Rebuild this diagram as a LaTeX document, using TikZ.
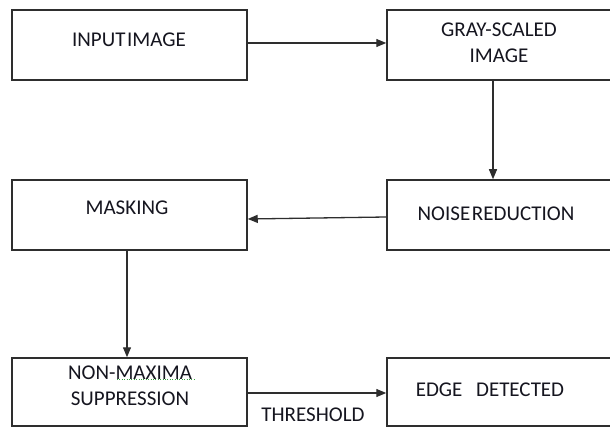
\documentclass[tikz,border=0pt]{standalone}
\usepackage{fontspec}
\setmainfont{Carlito}[WordSpace=0.35]
\usetikzlibrary{arrows.meta}
\definecolor{edgecol}{HTML}{2E2E2E}
\definecolor{inkcol}{HTML}{15151F}
\definecolor{spellcol}{HTML}{3AA040}
\tikzset{
  stage/.style={draw=edgecol, line width=1.5pt, fill=white, minimum width=235pt,
    minimum height=70pt, inner sep=0pt},
  wide/.style={minimum width=226pt},
  tall/.style={minimum height=68pt},
  caption/.style={text=inkcol, font=\fontsize{21}{26}\selectfont, inner sep=0pt,
    align=center},
  flow/.style={draw=edgecol, line width=1.3pt, -{Triangle[length=10pt,width=8pt]}},
}
\begin{document}
\begin{tikzpicture}[x=1pt, y=-1pt]
  \useasboundingbox (0,0) rectangle (610,427);
  \clip (0,0) rectangle (610,427);

  % stage boxes
  \node[stage]      (in)    at (129.5, 45)  {};
  \node[stage,wide] (gray)  at (500, 45)   {};
  \node[stage]      (mask)  at (129.5, 215) {};
  \node[stage,wide] (noise) at (500, 215)  {};
  \node[stage,tall] (nms)   at (129.5, 392) {};
  \node[stage,wide,tall] (edge) at (500, 392) {};

  % stage captions
  \node[caption] (tin)    at (129, 40)  {INPUT IMAGE};
  \node[caption] (tgray)  at (499, 43)  {GRAY-SCALED\\IMAGE};
  \node[caption] (tmask)  at (127, 208) {MASKING};
  \node[caption] (tnoise) at (496, 214) {NOISE REDUCTION};
  \node[caption] (tnms)   at (130, 386) {NON-MAXIMA\\SUPPRESSION};
  \node[caption] (tedge)  at (490, 390) {EDGE \hspace{12pt}DETECTED};
  \node[caption] (tthr)   at (313, 414.5) {THRESHOLD};

  % spell-check mark under the second word of the first line
  \coordinate (sq1) at (117, 379);
  \coordinate (sq2) at (195, 379);
  \draw[spellcol, line width=1pt, dash pattern=on 1pt off 1.4pt] (sq1) -- (sq2);

  % flow of the pipeline
  \draw[flow] ([yshift=2pt]in.east) -- ([yshift=2pt]gray.west);
  \draw[flow] ([xshift=-7pt]gray.south) -- ([xshift=-7pt]noise.north);
  \draw[flow] ([yshift=-2pt]noise.west) -- ([yshift=-4pt]mask.east);
  \draw[flow] ([xshift=-2.5pt]mask.south) -- ([xshift=-2.5pt]nms.north);
  \draw[flow] ([yshift=-1pt]nms.east) -- ([yshift=-1pt]edge.west);
\end{tikzpicture}
\end{document}
